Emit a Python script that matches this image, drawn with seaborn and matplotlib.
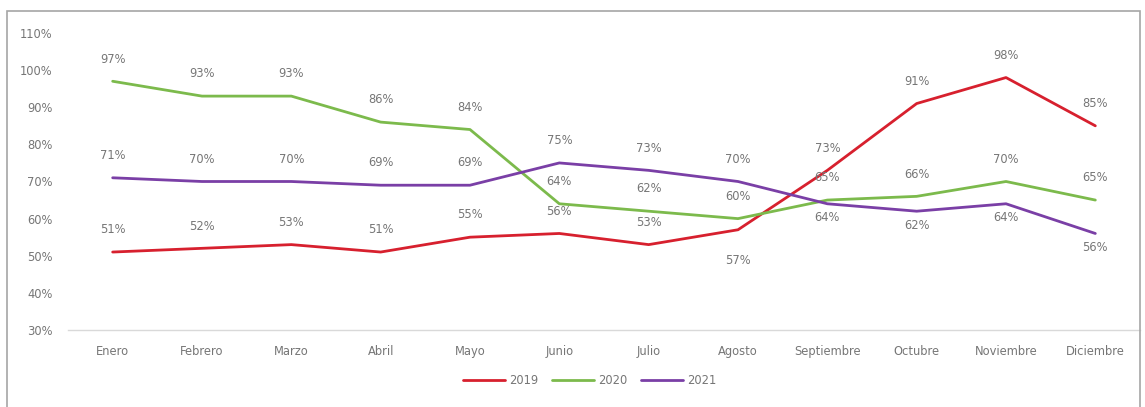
import matplotlib
matplotlib.use("Agg")
import matplotlib.pyplot as plt
import seaborn as sns
import pandas as pd
from matplotlib.patches import Rectangle
from matplotlib.ticker import PercentFormatter

months = ["Enero", "Febrero", "Marzo", "Abril", "Mayo", "Junio", "Julio",
          "Agosto", "Septiembre", "Octubre", "Noviembre", "Diciembre"]
years = ["2019", "2020", "2021"]
v2019 = [51, 52, 53, 51, 55, 56, 53, 57, 73, 91, 98, 85]
v2020 = [97, 93, 93, 86, 84, 64, 62, 60, 65, 66, 70, 65]
v2021 = [71, 70, 70, 69, 69, 75, 73, 70, 64, 62, 64, 56]

# label offsets in points (vertical): positive above, negative below
off2019 = [16, 16, 16, 16, 16, 16, 16, -22, 16, 16, 16, 16]
off2020 = [16, 16, 16, 16, 16, 16, 16, 16, 16, 16, 16, 16]
off2021 = [16, 16, 16, 16, 16, 16, 16, 16, -10, -10, -10, -10]

colors = {"2019": "#d7202e", "2020": "#7cba4c", "2021": "#7a3fa6"}

df = pd.DataFrame({
    "Mes": months * 3,
    "Año": [y for y in years for _ in months],
    "Valor": [v / 100 for v in v2019 + v2020 + v2021],
})

sns.set_theme(style="white")
plt.rcParams["font.family"] = ["DejaVu Sans"]

fig = plt.figure(figsize=(11.45, 4.07), dpi=100)
ax = fig.add_axes([68 / 1145, 1 - 330 / 407, (1140 - 68) / 1145, (330 - 33) / 407])

sns.lineplot(data=df, x="Mes", y="Valor", hue="Año", palette=colors,
             linewidth=2.0, sort=False, ax=ax, legend=True)

txt = "#767676"
fs = 8.3
for vals, offs, y in [(v2019, off2019, "2019"), (v2020, off2020, "2020"), (v2021, off2021, "2021")]:
    for i, (v, o) in enumerate(zip(vals, offs)):
        ax.annotate(f"{v}%", (i, v / 100), xytext=(0, o), textcoords="offset points",
                    ha="center", va="center", fontsize=fs, color=txt)

ax.set_xlim(-0.5, 11.5)
ax.set_ylim(0.30, 1.10)
ax.set_yticks([0.3, 0.4, 0.5, 0.6, 0.7, 0.8, 0.9, 1.0, 1.1])
ax.yaxis.set_major_formatter(PercentFormatter(1.0, decimals=0))
ax.set_xlabel("")
ax.set_ylabel("")
ax.tick_params(axis="both", labelsize=fs, colors=txt, length=0)
ax.tick_params(axis="x", pad=11)
ax.tick_params(axis="y", pad=11)
for s in ["top", "right", "left"]:
    ax.spines[s].set_visible(False)
ax.spines["bottom"].set_color("#d9d9d9")
ax.spines["bottom"].set_linewidth(1)

handles, labels = ax.get_legend_handles_labels()
ax.legend(handles, labels, loc="center", bbox_to_anchor=(590 / 1145, 1 - 381 / 407),
          bbox_transform=fig.transFigure, ncol=3, frameon=False, fontsize=fs,
          handlelength=3.6, columnspacing=1.2, handletextpad=0.4,
          labelcolor=txt)

fig.patches.append(Rectangle((7 / 1145, -0.01), (1140 - 7) / 1145, 1 - 11 / 407 + 0.01,
                             transform=fig.transFigure, fill=False,
                             edgecolor="#a6a6a6", linewidth=1.2))

fig.savefig("out.png", dpi=100)
